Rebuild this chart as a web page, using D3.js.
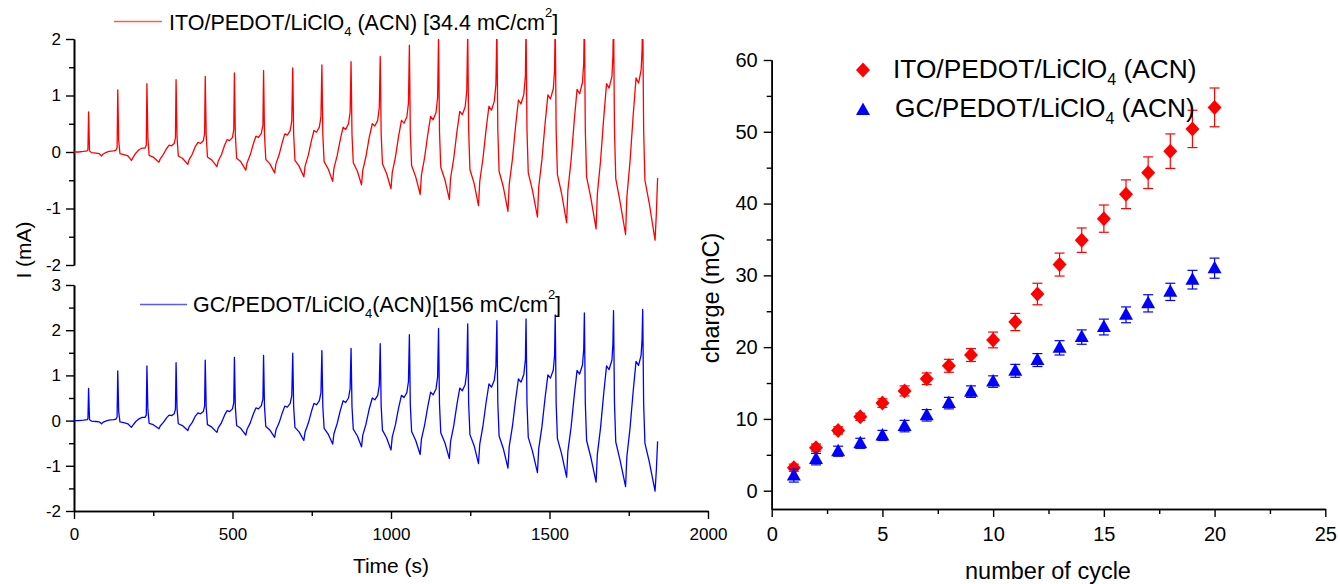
<!DOCTYPE html>
<html><head><meta charset="utf-8">
<script src="https://cdn.jsdelivr.net/npm/d3@7"></script>
<style>
html,body{margin:0;padding:0;background:#fff;}
svg{display:block;font-family:"Liberation Sans",Arial,sans-serif;}
</style></head><body>
<svg id="chart" width="1340" height="584"></svg>
<script>
// ---------- data: chronoamperometric traces (time in s, current in mA) ----------
const timeS = [0,15,30,42,44,
46,49,55,70,80,87,91,100,110,125,132,136,
138,141,145,160,170,181,186,195,205,215,224,228,
230,233,237,250,268,272,282,292,300,308,316,320,
322,325,329,342,359,363,373,383,391,399,408,412,
414,417,421,434,451,455,465,475,483,491,500,504,
506,509,513,526,542,546,556,566,574,582,591,596,
598,601,605,618,633,637,647,657,665,673,682,687,
690,693,697,710,725,729,739,749,757,765,774,779,
782,785,789,802,816,820,830,840,849,857,866,871,
874,877,881,894,907,911,921,931,941,949,958,963,
966,969,973,986,1000,1004,1014,1024,1033,1041,1050,1055,
1058,1061,1065,1078,1092,1096,1106,1116,1125,1133,1142,1147,
1150,1153,1157,1170,1184,1188,1198,1208,1217,1225,1234,1239,
1242,1245,1249,1262,1276,1280,1290,1300,1309,1317,1326,1331,
1334,1337,1341,1354,1369,1373,1383,1393,1402,1410,1419,1424,
1426,1429,1433,1446,1462,1466,1476,1486,1495,1503,1512,1516,
1518,1521,1525,1538,1554,1558,1568,1578,1587,1595,1604,1608,
1610,1613,1617,1630,1647,1651,1661,1671,1680,1688,1697,1700,
1702,1705,1709,1722,1740,1744,1754,1764,1773,1781,1789,1792,
1794,1797,1801,1815,1833,1837,1841];
const currentITO = [0.00,0.00,0.01,0.02,0.05,
0.71,0.02,-0.01,-0.02,-0.03,-0.07,-0.04,-0.01,0.01,0.02,0.03,0.08,
1.10,0.20,-0.03,-0.05,-0.07,-0.15,-0.10,-0.02,0.04,0.07,0.07,0.12,
1.21,0.25,-0.06,-0.09,-0.18,-0.12,-0.04,0.06,0.12,0.11,0.15,0.25,
1.28,0.28,-0.07,-0.11,-0.22,-0.14,-0.04,0.10,0.17,0.15,0.20,0.32,
1.34,0.30,-0.09,-0.14,-0.26,-0.16,-0.05,0.12,0.22,0.20,0.26,0.40,
1.40,0.30,-0.11,-0.17,-0.32,-0.19,-0.05,0.15,0.28,0.26,0.33,0.48,
1.44,0.30,-0.13,-0.21,-0.37,-0.21,-0.05,0.17,0.32,0.30,0.38,0.55,
1.49,0.30,-0.15,-0.25,-0.44,-0.25,-0.06,0.20,0.38,0.35,0.44,0.62,
1.54,0.30,-0.17,-0.30,-0.52,-0.29,-0.07,0.22,0.44,0.40,0.50,0.70,
1.60,0.30,-0.19,-0.34,-0.58,-0.32,-0.08,0.25,0.50,0.46,0.56,0.78,
1.69,0.32,-0.21,-0.38,-0.65,-0.36,-0.09,0.28,0.56,0.51,0.62,0.86,
1.89,0.34,-0.24,-0.44,-0.75,-0.41,-0.10,0.31,0.63,0.57,0.70,0.96,
2.04,0.36,-0.27,-0.49,-0.84,-0.46,-0.11,0.36,0.72,0.66,0.80,1.08,
2.14,0.38,-0.31,-0.55,-0.95,-0.52,-0.12,0.40,0.81,0.74,0.90,1.20,
2.21,0.38,-0.34,-0.61,-1.05,-0.57,-0.13,0.46,0.92,0.85,1.02,1.35,
2.25,0.38,-0.37,-0.67,-1.15,-0.62,-0.14,0.50,1.01,0.94,1.12,1.45,
2.34,0.38,-0.40,-0.73,-1.25,-0.68,-0.15,0.55,1.11,1.03,1.23,1.58,
2.38,0.38,-0.44,-0.80,-1.36,-0.74,-0.16,0.60,1.21,1.13,1.34,1.70,
2.43,0.38,-0.47,-0.86,-1.46,-0.80,-0.17,0.65,1.31,1.22,1.45,1.80,
2.46,0.38,-0.50,-0.92,-1.56,-1.10,-0.46];
const currentGC = [0.00,0.00,0.01,0.02,0.05,
0.71,0.02,-0.01,-0.02,-0.03,-0.07,-0.04,-0.01,0.01,0.02,0.03,0.08,
1.10,0.20,-0.03,-0.05,-0.07,-0.15,-0.10,-0.02,0.04,0.07,0.07,0.12,
1.21,0.25,-0.06,-0.09,-0.18,-0.12,-0.04,0.06,0.12,0.11,0.15,0.25,
1.28,0.28,-0.07,-0.11,-0.22,-0.14,-0.04,0.10,0.17,0.15,0.20,0.32,
1.34,0.30,-0.09,-0.14,-0.26,-0.16,-0.05,0.12,0.22,0.20,0.26,0.40,
1.40,0.30,-0.11,-0.17,-0.32,-0.19,-0.05,0.15,0.28,0.26,0.33,0.48,
1.44,0.30,-0.13,-0.21,-0.37,-0.21,-0.05,0.17,0.32,0.30,0.38,0.55,
1.49,0.30,-0.15,-0.25,-0.44,-0.25,-0.06,0.20,0.38,0.35,0.44,0.62,
1.55,0.30,-0.17,-0.30,-0.52,-0.29,-0.07,0.22,0.44,0.40,0.50,0.70,
1.60,0.30,-0.19,-0.34,-0.58,-0.32,-0.08,0.25,0.50,0.46,0.56,0.78,
1.70,0.32,-0.21,-0.38,-0.65,-0.36,-0.09,0.28,0.56,0.51,0.62,0.86,
1.90,0.34,-0.24,-0.44,-0.75,-0.41,-0.10,0.31,0.63,0.57,0.70,0.96,
2.04,0.36,-0.27,-0.49,-0.84,-0.46,-0.11,0.36,0.72,0.66,0.80,1.08,
2.14,0.38,-0.31,-0.55,-0.95,-0.52,-0.12,0.40,0.81,0.74,0.90,1.20,
2.21,0.38,-0.34,-0.61,-1.05,-0.57,-0.13,0.46,0.92,0.85,1.02,1.35,
2.25,0.38,-0.37,-0.67,-1.15,-0.62,-0.14,0.50,1.01,0.94,1.12,1.45,
2.34,0.38,-0.40,-0.73,-1.25,-0.68,-0.15,0.55,1.11,1.03,1.23,1.58,
2.38,0.38,-0.44,-0.80,-1.36,-0.74,-0.16,0.60,1.21,1.13,1.34,1.70,
2.43,0.38,-0.47,-0.86,-1.46,-0.80,-0.17,0.65,1.31,1.22,1.45,1.80,
2.46,0.38,-0.50,-0.92,-1.56,-1.10,-0.46];

// ---------- data: charge vs cycle ----------
const cycleNo   = [1,2,3,4,5,6,7,8,9,10,11,12,13,14,15,16,17,18,19,20];
const itoCharge = [3.2,6.0,8.4,10.3,12.2,13.9,15.6,17.4,18.9,21.0,23.5,27.4,31.5,34.9,37.9,41.3,44.3,47.3,50.4,53.4];
const itoErr    = [0.5,0.5,0.5,0.5,0.6,0.7,0.8,0.9,0.9,1.1,1.2,1.5,1.6,1.7,1.9,2.0,2.2,2.4,2.6,2.7];
const gcCharge  = [2.1,4.4,5.5,6.6,7.7,9.0,10.5,12.2,13.8,15.2,16.7,18.2,19.9,21.4,22.8,24.5,26.1,27.7,29.4,31.0];
const gcErr     = [0.9,0.8,0.7,0.7,0.7,0.8,0.8,0.8,0.8,0.8,0.9,0.9,1.0,1.0,1.1,1.1,1.2,1.2,1.3,1.4];

// ---------- tick values ----------
const timeTicks = [0,500,1000,1500,2000];
const timeMinor = [250,750,1250,1750];
const topITicks = [-2,-1,0,1,2];
const topIMinor = [-1.5,-0.5,0.5,1.5];
const botITicks = [-2,-1,0,1,2,3];
const botIMinor = [-1.5,-0.5,0.5,1.5,2.5];
const cycTicks = [0,5,10,15,20,25];
const cycMinor = [2.5,7.5,12.5,17.5,22.5];
const chgTicks = [0,10,20,30,40,50,60];
const chgMinor = [5,15,25,35,45,55];

const svg = d3.select("#chart");
const plain = d => String(d);

function styleAxis(g, fs){
  g.selectAll(".domain").attr("stroke","#000").attr("stroke-width",1.6);
  g.selectAll(".tick line").attr("stroke","#000").attr("stroke-width",1.4);
  g.selectAll(".tick text").attr("fill","#000").attr("font-size",fs).attr("font-family","'Liberation Sans',Arial,sans-serif");
}

// ---------- left panels ----------
const xT = d3.scaleLinear().domain([0,2000]).range([74,708]);
const yTop = d3.scaleLinear().domain([-2,2]).range([265,39]);
const yBot = d3.scaleLinear().domain([-2,3]).range([511,285]);

svg.append("defs").append("clipPath").attr("id","clipTop")
  .append("rect").attr("x",74).attr("y",39).attr("width",634).attr("height",226);

let g = svg.append("g").attr("transform","translate(74,0)")
  .call(d3.axisLeft(yTop).tickValues(topITicks).tickSize(8).tickSizeOuter(0).tickPadding(5).tickFormat(plain));
styleAxis(g, 17);
g = svg.append("g").attr("transform","translate(74,0)")
  .call(d3.axisLeft(yTop).tickValues(topIMinor).tickSize(5).tickSizeOuter(0).tickFormat(""));
styleAxis(g, 17);

g = svg.append("g").attr("transform","translate(74,0)")
  .call(d3.axisLeft(yBot).tickValues(botITicks).tickSize(8).tickSizeOuter(0).tickPadding(5).tickFormat(plain));
styleAxis(g, 17);
g = svg.append("g").attr("transform","translate(74,0)")
  .call(d3.axisLeft(yBot).tickValues(botIMinor).tickSize(5).tickSizeOuter(0).tickFormat(""));
styleAxis(g, 17);

g = svg.append("g").attr("transform","translate(0,511)")
  .call(d3.axisBottom(xT).tickValues(timeTicks).tickSize(8).tickSizeOuter(0).tickPadding(9).tickFormat(plain));
styleAxis(g, 17);
g = svg.append("g").attr("transform","translate(0,511)")
  .call(d3.axisBottom(xT).tickValues(timeMinor).tickSize(5).tickSizeOuter(0).tickFormat(""));
styleAxis(g, 17);

const topData = timeS.map((t,i)=>[t,currentITO[i]]);
const botData = timeS.map((t,i)=>[t,currentGC[i]]);

svg.append("path").datum(topData)
  .attr("clip-path","url(#clipTop)")
  .attr("fill","none").attr("stroke","#ff0000").attr("stroke-width",1.3).attr("stroke-linejoin","round")
  .attr("d", d3.line().x(d=>xT(d[0])).y(d=>yTop(d[1])));
svg.append("path").datum(botData)
  .attr("fill","none").attr("stroke","#0000ff").attr("stroke-width",1.3).attr("stroke-linejoin","round")
  .attr("d", d3.line().x(d=>xT(d[0])).y(d=>yBot(d[1])));

// left legends
svg.append("line").attr("x1",114).attr("x2",162).attr("y1",21.5).attr("y2",21.5)
  .attr("stroke","#ff5a5a").attr("stroke-width",1.4);
let t = svg.append("text").attr("x",169).attr("y",30).attr("font-size",21.5).attr("fill","#000");
t.append("tspan").text("ITO/PEDOT/LiClO");
t.append("tspan").attr("font-size",13).attr("dy",6).text("4");
t.append("tspan").attr("dy",-6).text(" (ACN) [34.4 mC/cm");
t.append("tspan").attr("font-size",13).attr("dy",-13).text("2");
t.append("tspan").attr("dy",13).text("]");

svg.append("line").attr("x1",140).attr("x2",187).attr("y1",304.5).attr("y2",304.5)
  .attr("stroke","#5a5aff").attr("stroke-width",1.4);
t = svg.append("text").attr("x",193).attr("y",312).attr("font-size",21.5).attr("fill","#000");
t.append("tspan").text("GC/PEDOT/LiClO");
t.append("tspan").attr("font-size",13).attr("dy",6).text("4");
t.append("tspan").attr("dy",-6).text("(ACN)[156 mC/cm");
t.append("tspan").attr("font-size",13).attr("dy",-13).text("2");
t.append("tspan").attr("dy",13).text("]");

svg.append("text").attr("transform","translate(31,250) rotate(-90)")
  .attr("text-anchor","middle").attr("font-size",21).text("I (mA)");
svg.append("text").attr("x",391).attr("y",573).attr("text-anchor","middle").attr("font-size",21).text("Time (s)");

// ---------- right panel ----------
const xC = d3.scaleLinear().domain([0,25]).range([771.7,1325.3]);
const yC = d3.scaleLinear().domain([-2.55,60]).range([509,60]);

g = svg.append("g").attr("transform","translate(771.7,0)")
  .call(d3.axisLeft(yC).tickValues(chgTicks).tickSize(8).tickSizeOuter(0).tickPadding(6).tickFormat(plain));
styleAxis(g, 20);
g = svg.append("g").attr("transform","translate(771.7,0)")
  .call(d3.axisLeft(yC).tickValues(chgMinor).tickSize(5).tickSizeOuter(0).tickFormat(""));
styleAxis(g, 20);
g = svg.append("g").attr("transform","translate(0,509)")
  .call(d3.axisBottom(xC).tickValues(cycTicks).tickSize(8).tickSizeOuter(0).tickPadding(10).tickFormat(plain));
styleAxis(g, 20);
g = svg.append("g").attr("transform","translate(0,509)")
  .call(d3.axisBottom(xC).tickValues(cycMinor).tickSize(5).tickSizeOuter(0).tickFormat(""));
styleAxis(g, 20);

svg.append("text").attr("transform","translate(719,298) rotate(-90)")
  .attr("text-anchor","middle").attr("font-size",23.5).text("charge (mC)");
svg.append("text").attr("x",1048).attr("y",579).attr("text-anchor","middle").attr("font-size",23.5).text("number of cycle");

function errBars(vals, errs, color){
  const eg = svg.append("g").attr("stroke",color).attr("stroke-width",1.2).attr("fill","none");
  cycleNo.forEach((c,i)=>{
    const x = xC(c), y1 = yC(vals[i]+errs[i]), y0 = yC(vals[i]-errs[i]);
    eg.append("line").attr("x1",x).attr("x2",x).attr("y1",y1).attr("y2",y0);
    eg.append("line").attr("x1",x-5).attr("x2",x+5).attr("y1",y1).attr("y2",y1);
    eg.append("line").attr("x1",x-5).attr("x2",x+5).attr("y1",y0).attr("y2",y0);
  });
}
const diamond = (x,y)=>`M${x},${y-7.5}L${x+7},${y}L${x},${y+7.5}L${x-7},${y}Z`;
const triangle = (x,y)=>`M${x},${y-7.5}L${x+7},${y+5}L${x-7},${y+5}Z`;

errBars(itoCharge, itoErr, "#ff0000");
svg.append("g").selectAll("path").data(cycleNo).join("path")
  .attr("d",(c,i)=>diamond(xC(c), yC(itoCharge[i]))).attr("fill","#ff0000");
errBars(gcCharge, gcErr, "#0000ff");
svg.append("g").selectAll("path").data(cycleNo).join("path")
  .attr("d",(c,i)=>triangle(xC(c), yC(gcCharge[i]))).attr("fill","#0000ff");

// right legend
svg.append("path").attr("d",diamond(863,70)).attr("fill","#ff0000");
svg.append("path").attr("d",triangle(863,110)).attr("fill","#0000ff");
t = svg.append("text").attr("x",893).attr("y",78).attr("font-size",26.3).attr("fill","#000");
t.append("tspan").text("ITO/PEDOT/LiClO");
t.append("tspan").attr("font-size",16).attr("dy",7).text("4");
t.append("tspan").attr("dy",-7).text(" (ACN)");
t = svg.append("text").attr("x",895).attr("y",117).attr("font-size",26.3).attr("fill","#000");
t.append("tspan").text("GC/PEDOT/LiClO");
t.append("tspan").attr("font-size",16).attr("dy",7).text("4");
t.append("tspan").attr("dy",-7).text(" (ACN)");
</script>
</body></html>
